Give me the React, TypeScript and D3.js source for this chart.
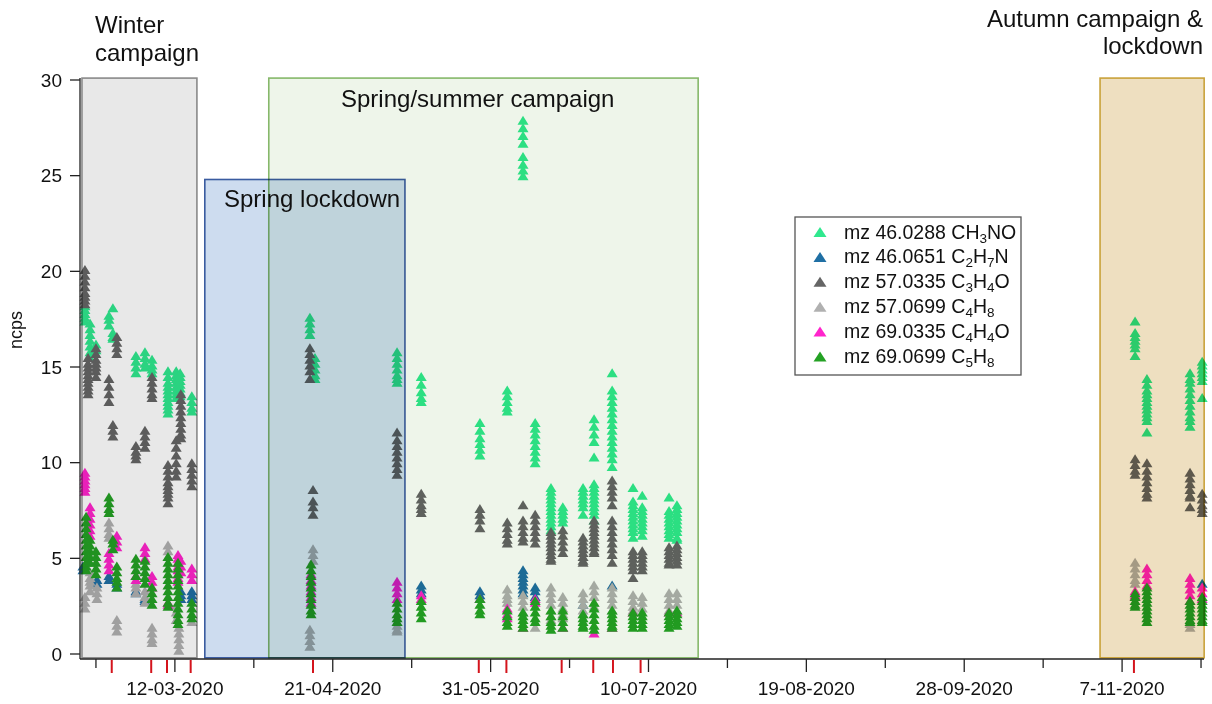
import React from "react";
import * as d3 from "d3";

type Col = [string, number[]];

// ---------- data ----------
const ch3no: Col[] = [
  ["2020-02-18 05", [18.2, 18.0, 17.8, 17.6, 17.4]],
  ["2020-02-19 12", [17.3, 17.0, 16.7, 16.4, 16.1, 15.8, 15.5]],
  ["2020-02-21 00", [16.2, 15.9]],
  ["2020-02-24 07", [17.7, 17.5, 17.2]],
  ["2020-02-25 07", [18.1, 16.8, 16.6, 16.5]],
  ["2020-03-02 03", [15.6, 15.3, 15.0, 14.7]],
  ["2020-03-04 10", [15.8, 15.5, 15.2, 15.0]],
  ["2020-03-06 05", [15.4, 15.1, 14.9, 14.7]],
  ["2020-03-10 06", [14.8, 14.5, 14.2, 14.0, 13.8, 13.6, 13.4, 13.2, 13.0, 12.8, 12.6]],
  ["2020-03-12 08", [14.8, 14.6, 14.4, 14.2, 14.0, 13.8, 13.6, 13.4]],
  ["2020-03-13 08", [14.7, 14.5, 14.3, 14.1, 13.9, 13.7, 13.5]],
  ["2020-03-16 07", [13.5, 13.2, 12.9, 12.7]],
  ["2020-04-15 05", [17.6, 17.3, 17.0, 16.7]],
  ["2020-04-16 12", [15.5, 15.2, 14.9, 14.6, 14.4]],
  ["2020-05-07 07", [15.8, 15.5, 15.2, 14.9, 14.6, 14.4, 14.2]],
  ["2020-05-13 10", [14.5, 14.1, 13.7, 13.4, 13.2]],
  ["2020-05-28 07", [12.1, 11.7, 11.3, 11.0, 10.7, 10.4]],
  ["2020-06-04 05", [13.8, 13.5, 13.2, 12.9, 12.7]],
  ["2020-06-08 05", [27.9, 27.5, 27.1, 26.7, 26.0, 25.6, 25.3, 25.0]],
  ["2020-06-11 07", [12.1, 11.8, 11.5, 11.2, 10.9, 10.6, 10.3, 10.0]],
  ["2020-06-15 07", [8.7, 8.5, 8.3, 8.1, 7.9, 7.7, 7.5, 7.3, 7.1, 6.9, 6.7, 6.5]],
  ["2020-06-18 07", [7.7, 7.5, 7.3, 7.1, 6.9]],
  ["2020-06-23 10", [8.7, 8.5, 8.3, 8.1, 7.9, 7.7, 7.3]],
  ["2020-06-26 05", [12.3, 11.9, 11.5, 11.1, 10.3, 8.9, 8.7, 8.5, 8.3, 8.1, 7.9, 7.7, 7.5, 7.3, 7.0]],
  ["2020-06-30 19", [14.7, 13.8, 13.5, 13.2, 12.9, 12.6, 12.3, 12.0, 11.7, 11.4, 11.1, 10.8, 10.5, 10.2, 9.8]],
  ["2020-07-06 02", [8.7, 8.0, 7.8, 7.6, 7.4, 7.2, 7.0, 6.8, 6.6, 6.4, 6.1]],
  ["2020-07-08 10", [8.3, 7.7, 7.5, 7.3, 7.1, 6.9, 6.7, 6.5, 6.2]],
  ["2020-07-15 05", [8.2, 7.5, 7.3, 7.1, 6.9, 6.7, 6.5, 6.3, 6.1]],
  ["2020-07-17 05", [7.8, 7.6, 7.4, 7.2, 7.0, 6.8, 6.6, 6.4, 6.1, 6.0]],
  ["2020-11-10 07", [17.4, 16.8, 16.6, 16.4, 16.2, 16.0, 15.6]],
  ["2020-11-13 07", [14.4, 14.1, 13.8, 13.6, 13.4, 13.2, 13.0, 12.8, 12.6, 12.4, 12.2, 11.6]],
  ["2020-11-24 05", [14.7, 14.4, 14.2, 13.9, 13.6, 13.3, 13.0, 12.7, 12.4, 12.2, 11.9]],
  ["2020-11-27 07", [15.3, 15.1, 14.9, 14.7, 14.5, 14.3, 13.4]],
];

const c2h7n: Col[] = [
  ["2020-02-17 17", [4.6, 4.4]],
  ["2020-02-21 06", [3.9, 3.7]],
  ["2020-02-24 07", [4.1, 3.9]],
  ["2020-02-26 07", [3.7, 3.5]],
  ["2020-03-02 03", [3.3, 3.2]],
  ["2020-03-04 10", [2.9, 2.8]],
  ["2020-03-13 12", [3.3, 3.1, 2.9]],
  ["2020-03-16 07", [3.3, 3.1, 2.9]],
  ["2020-05-13 10", [3.6, 3.4, 3.2]],
  ["2020-05-28 07", [3.3, 3.1, 2.9]],
  ["2020-06-08 05", [4.4, 4.2, 4.0, 3.8, 3.6, 3.4, 3.2]],
  ["2020-06-11 07", [3.5, 3.3, 3.0]],
  ["2020-06-23 10", [2.6]],
  ["2020-06-30 19", [3.6]],
  ["2020-11-27 07", [3.7]],
];

const c3h4o: Col[] = [
  ["2020-02-18 05", [20.1, 19.8, 19.5, 19.2, 18.9, 18.7, 18.5, 18.3]],
  ["2020-02-19 00", [15.5, 15.2, 15.0, 14.8, 14.6, 14.4, 14.2, 14.0, 13.8, 13.6]],
  ["2020-02-21 00", [16.0, 15.7, 15.4, 15.2, 15.0, 14.8, 14.5]],
  ["2020-02-24 07", [14.4, 14.0, 13.6, 13.2]],
  ["2020-02-25 07", [12.0, 11.7, 11.4]],
  ["2020-02-26 07", [16.6, 16.3, 16.0, 15.7]],
  ["2020-03-02 03", [10.9, 10.6, 10.4, 10.2]],
  ["2020-03-04 10", [11.7, 11.4, 11.1, 10.8]],
  ["2020-03-06 05", [14.5, 14.2, 13.9, 13.6, 13.4]],
  ["2020-03-10 06", [9.9, 9.6, 9.3, 9.0, 8.8, 8.6, 8.4, 8.2, 7.9]],
  ["2020-03-12 08", [11.2, 10.8, 10.4, 10.0, 9.6, 9.3]],
  ["2020-03-13 12", [13.6, 13.3, 13.0, 12.7, 12.4, 12.1, 11.8, 11.5, 11.3]],
  ["2020-03-16 07", [10.0, 9.7, 9.4, 9.1, 8.8]],
  ["2020-04-15 05", [16.0, 15.7, 15.4, 15.1, 14.8, 14.4]],
  ["2020-04-16 00", [8.6, 8.0, 7.7, 7.3]],
  ["2020-05-07 07", [11.6, 11.2, 10.9, 10.6, 10.3, 10.0, 9.7, 9.4]],
  ["2020-05-13 10", [8.4, 8.1, 7.8, 7.6, 7.4]],
  ["2020-05-28 07", [7.6, 7.3, 7.0, 6.6]],
  ["2020-06-04 05", [6.9, 6.6, 6.3, 6.0, 5.8]],
  ["2020-06-08 05", [7.8, 7.0, 6.7, 6.4, 6.1, 5.9]],
  ["2020-06-11 07", [7.3, 7.0, 6.7, 6.4, 6.1, 5.8]],
  ["2020-06-15 07", [6.4, 6.2, 6.0, 5.8, 5.6, 5.4, 5.2, 5.0, 4.9]],
  ["2020-06-18 07", [6.5, 6.2, 5.9, 5.6, 5.3]],
  ["2020-06-23 10", [6.1, 5.9, 5.7, 5.5, 5.3, 5.1, 4.9, 4.8]],
  ["2020-06-26 05", [7.0, 6.8, 6.6, 6.4, 6.2, 6.0, 5.8, 5.6, 5.4, 5.3]],
  ["2020-06-30 19", [9.1, 8.8, 8.5, 8.2, 7.8, 7.0, 6.7, 6.4, 6.1, 5.8, 5.5, 5.2, 4.8]],
  ["2020-07-06 02", [5.4, 5.2, 5.0, 4.8, 4.6, 4.4, 4.0]],
  ["2020-07-08 10", [5.4, 5.2, 5.0, 4.8, 4.6, 4.4]],
  ["2020-07-15 05", [5.6, 5.4, 5.2, 5.0, 4.8, 4.7]],
  ["2020-07-17 05", [5.7, 5.5, 5.3, 5.1, 4.9, 4.7]],
  ["2020-11-10 07", [10.2, 9.9, 9.6, 9.4]],
  ["2020-11-13 07", [10.0, 9.6, 9.3, 9.0, 8.7, 8.4, 8.2]],
  ["2020-11-24 05", [9.5, 9.2, 8.9, 8.6, 8.3, 8.2, 7.7]],
  ["2020-11-27 07", [8.4, 8.1, 7.8, 7.6, 7.4]],
];

const c4h8: Col[] = [
  ["2020-02-18 05", [3.0, 2.7, 2.4]],
  ["2020-02-19 12", [4.3, 4.0, 3.8, 3.6, 3.3]],
  ["2020-02-21 06", [3.5, 3.2, 2.9]],
  ["2020-02-24 07", [6.9, 6.6, 6.3, 6.1]],
  ["2020-02-26 07", [1.8, 1.5, 1.2]],
  ["2020-03-02 03", [3.7, 3.5, 3.2]],
  ["2020-03-04 10", [3.3, 3.0, 2.7]],
  ["2020-03-06 05", [1.4, 1.1, 0.8, 0.6]],
  ["2020-03-10 06", [5.7, 5.4, 5.1]],
  ["2020-03-12 08", [2.5, 2.2, 1.8]],
  ["2020-03-13 00", [1.4, 1.1, 0.8, 0.5, 0.2]],
  ["2020-03-16 07", [1.7]],
  ["2020-04-16 00", [5.5, 5.2, 4.9]],
  ["2020-04-15 05", [1.3, 1.0, 0.7, 0.4]],
  ["2020-05-07 07", [1.7, 1.5, 1.3, 1.2]],
  ["2020-06-04 05", [3.4, 3.1, 2.9, 2.7]],
  ["2020-06-08 05", [3.1, 2.8, 2.5, 2.2]],
  ["2020-06-11 07", [1.4]],
  ["2020-06-15 07", [3.5, 3.2, 2.9, 2.6, 2.3, 2.0, 1.8]],
  ["2020-06-18 07", [3.0, 2.7, 2.4, 2.1, 1.9]],
  ["2020-06-23 10", [3.2, 2.9, 2.6, 2.3, 2.1]],
  ["2020-06-26 05", [3.6, 3.3, 3.0, 2.7, 2.5]],
  ["2020-06-30 19", [3.5, 3.2, 2.9, 2.6, 2.3]],
  ["2020-07-06 02", [3.1, 2.8, 2.5, 2.3]],
  ["2020-07-08 10", [3.0, 2.7, 2.4]],
  ["2020-07-15 05", [3.2, 2.9, 2.6, 2.3]],
  ["2020-07-17 05", [3.2, 2.9, 2.6, 2.3]],
  ["2020-11-10 07", [4.8, 4.5, 4.2, 3.9, 3.7]],
  ["2020-11-24 05", [1.6, 1.4]],
];

const c4h4o: Col[] = [
  ["2020-02-18 05", [9.5, 9.3, 9.1, 8.9, 8.7, 8.5]],
  ["2020-02-19 12", [7.7, 7.4, 7.1, 6.8, 6.5, 6.2]],
  ["2020-02-24 07", [5.3, 5.0, 4.7, 4.4]],
  ["2020-02-26 07", [6.2, 5.9, 5.6]],
  ["2020-03-02 03", [4.1, 3.9]],
  ["2020-03-04 10", [5.6, 5.3, 5.0]],
  ["2020-03-06 05", [4.1, 3.8, 3.5]],
  ["2020-03-10 06", [2.7, 2.6]],
  ["2020-03-12 19", [5.2, 5.0, 4.8, 4.6, 4.4, 4.2, 4.0, 3.8]],
  ["2020-03-13 12", [4.9, 4.6, 4.3]],
  ["2020-03-16 07", [4.5, 4.2, 3.9]],
  ["2020-04-15 12", [4.2, 3.9, 3.6, 3.3, 3.0, 2.7]],
  ["2020-05-07 07", [3.8, 3.5, 3.2, 2.9]],
  ["2020-05-13 10", [3.1, 2.9]],
  ["2020-05-28 07", [2.9]],
  ["2020-06-04 05", [2.4, 2.1, 1.9]],
  ["2020-06-08 05", [1.4]],
  ["2020-06-11 07", [2.9, 2.7]],
  ["2020-06-18 07", [1.4]],
  ["2020-06-26 05", [1.1]],
  ["2020-06-30 19", [1.4]],
  ["2020-07-06 02", [2.2]],
  ["2020-07-15 05", [2.2]],
  ["2020-07-17 05", [2.2]],
  ["2020-11-10 07", [3.3, 3.1, 3.0]],
  ["2020-11-13 07", [4.5, 4.2, 3.9, 3.6]],
  ["2020-11-24 05", [4.0, 3.7, 3.4, 3.1, 2.8]],
  ["2020-11-27 07", [3.5, 3.2, 2.9]],
];

const c5h8: Col[] = [
  ["2020-02-18 12", [7.2, 6.9, 6.6, 6.3, 6.0, 5.7, 5.4, 5.1, 4.8, 4.6, 4.4]],
  ["2020-02-19 12", [6.0, 5.7, 5.4, 5.1, 4.8]],
  ["2020-02-21 00", [5.4, 5.1, 4.8, 4.5, 4.2]],
  ["2020-02-24 07", [8.2, 7.9, 7.6, 7.4]],
  ["2020-02-25 07", [6.0, 5.8, 5.5]],
  ["2020-02-26 07", [4.6, 4.3, 4.0, 3.8, 3.5]],
  ["2020-03-02 03", [5.0, 4.7, 4.4, 4.1]],
  ["2020-03-04 10", [4.9, 4.6, 4.3, 4.0, 3.7]],
  ["2020-03-06 05", [3.5, 3.2, 2.9, 2.6]],
  ["2020-03-10 06", [5.1, 4.8, 4.5, 4.2, 3.9, 3.6, 3.3, 3.0, 2.7, 2.5]],
  ["2020-03-12 19", [4.8, 4.5, 4.2, 3.9, 3.6, 3.3, 3.0, 2.7, 2.4, 2.1, 1.8, 1.6]],
  ["2020-03-16 07", [2.7, 2.4, 2.1, 1.9]],
  ["2020-04-15 12", [4.7, 4.4, 4.1, 3.8, 3.5, 3.2, 2.9, 2.6, 2.3, 2.1]],
  ["2020-05-07 07", [2.7, 2.4, 2.1, 1.9, 1.7]],
  ["2020-05-13 10", [2.8, 2.5, 2.2, 1.9]],
  ["2020-05-28 07", [2.9, 2.6, 2.3, 2.1]],
  ["2020-06-04 05", [2.3, 2.0, 1.7, 1.5]],
  ["2020-06-08 05", [2.2, 2.0, 1.8, 1.6, 1.4]],
  ["2020-06-11 07", [2.8, 2.5, 2.2, 1.9, 1.7]],
  ["2020-06-15 07", [2.3, 2.0, 1.7, 1.5, 1.3]],
  ["2020-06-18 07", [2.3, 2.0, 1.7, 1.4]],
  ["2020-06-23 10", [2.1, 1.9, 1.7, 1.5, 1.4]],
  ["2020-06-26 05", [2.7, 2.4, 2.1, 1.8, 1.5, 1.3]],
  ["2020-06-30 19", [2.3, 2.1, 1.9, 1.7, 1.5, 1.4]],
  ["2020-07-06 02", [2.2, 2.0, 1.8, 1.6, 1.4]],
  ["2020-07-08 10", [2.2, 2.0, 1.8, 1.6, 1.4]],
  ["2020-07-15 05", [2.2, 2.0, 1.8, 1.6, 1.4]],
  ["2020-07-17 05", [2.3, 2.1, 1.9, 1.7, 1.5]],
  ["2020-11-10 07", [3.2, 3.0, 2.8, 2.6, 2.5]],
  ["2020-11-13 07", [3.5, 3.3, 3.1, 2.9, 2.7, 2.5, 2.3, 2.1, 1.9, 1.7]],
  ["2020-11-24 05", [2.8, 2.6, 2.4, 2.2, 2.0, 1.8, 1.7]],
  ["2020-11-27 07", [3.0, 2.8, 2.6, 2.4, 2.2, 2.0, 1.8, 1.7]],
];

const seriesData: Col[][] = [ch3no, c2h7n, c3h4o, c4h8, c4h4o, c5h8];
// legend labels: even indices normal text, odd indices subscripts
const legendLabels: string[][] = [
  ["mz 46.0288 CH", "3", "NO"],
  ["mz 46.0651 C", "2", "H", "7", "N"],
  ["mz 57.0335 C", "3", "H", "4", "O"],
  ["mz 57.0699 C", "4", "H", "8"],
  ["mz 69.0335 C", "4", "H", "4", "O"],
  ["mz 69.0699 C", "5", "H", "8"],
];
const seriesColors = ["#2fe88e", "#1f6fa4", "#656565", "#b0b0b0", "#ff24cc", "#24a124"];

const yTicks = [0, 5, 10, 15, 20, 25, 30];
const xMajorTicks = ["2020-03-12", "2020-04-21", "2020-05-31", "2020-07-10", "2020-08-19", "2020-09-28", "2020-11-07"];
const xMajorLabels = ["12-03-2020", "21-04-2020", "31-05-2020", "10-07-2020", "19-08-2020", "28-09-2020", "7-11-2020"];
const xMinorTicks = ["2020-02-21", "2020-04-01", "2020-05-11", "2020-06-20", "2020-07-30", "2020-09-08", "2020-10-18", "2020-11-27"];
const redTicks = ["2020-02-25 00", "2020-03-06 00", "2020-03-10 00", "2020-03-16 00", "2020-04-16 00", "2020-05-28 00", "2020-06-04 00", "2020-06-18 00", "2020-06-26 00", "2020-07-01 00", "2020-07-08 00", "2020-11-10 00"];

// campaign periods: [start, end, top value]
const periods: [string, string, number][] = [
  ["2020-02-17 11", "2020-03-17 14", 30.1],
  ["2020-03-19 14", "2020-05-09 07", 24.8],
  ["2020-04-04 19", "2020-07-22 14", 30.1],
  ["2020-11-01 10", "2020-11-27 19", 30.1],
];
const periodFills = ["#e8e8e8", "#cddcef", "#eef5ea", "#eedfc0"];
const periodStrokes = ["#8a8a8a", "#3a5ba0", "#86b86a", "#c9a23a"];

const parseH = d3.timeParse("%Y-%m-%d %H");
const parseD = d3.timeParse("%Y-%m-%d");

const FONT = "'Liberation Sans', Arial, sans-serif";

function tri(cx: number, cy: number, w: number, h: number) {
  return `M${cx},${cy - h / 2}L${cx + w / 2},${cy + h / 2}L${cx - w / 2},${cy + h / 2}Z`;
}

export default function App() {
  const W = 1212, H = 704;
  const x = d3.scaleTime()
    .domain([new Date(2020, 1, 16, 23), new Date(2020, 10, 27, 12)])
    .range([80, 1203]);
  const y = d3.scaleLinear().domain([0, 30]).range([654, 80]);
  const axisY = 659;

  const points: JSX.Element[] = [];
  seriesData.forEach((cols, si) => {
    cols.forEach(([d, vals], ci) => {
      const px = x(parseH(d) as Date);
      vals.forEach((v, vi) => {
        points.push(
          <path key={`${si}-${ci}-${vi}`} d={tri(px, y(v), 11, 9)} fill={seriesColors[si]} />
        );
      });
    });
  });

  return (
    <svg width={W} height={H} style={{ position: "absolute", left: 0, top: 0, display: "block" }} fontFamily={FONT}>
      <rect x={0} y={0} width={W} height={H} fill="#ffffff" />
      <g>{points}</g>
      <g>
        {periods.map(([s, e, top], i) => {
          const x0 = x(parseH(s) as Date), x1 = x(parseH(e) as Date);
          const y0 = y(top), y1 = y(-0.2);
          return (
            <rect key={i} x={x0} y={y0} width={x1 - x0} height={y1 - y0}
              fill={periodFills[i]} stroke={periodStrokes[i]} strokeWidth={1.6}
              style={{ mixBlendMode: "multiply" }} />
          );
        })}
      </g>
      {/* period titles */}
      <g fontSize={24} fill="#111">
        <text x={95} y={33}>Winter</text>
        <text x={95} y={61}>campaign</text>
        <text x={1203} y={27} textAnchor="end">Autumn campaign &amp;</text>
        <text x={1203} y={54} textAnchor="end">lockdown</text>
        <text x={341} y={107}>Spring/summer campaign</text>
        <text x={224} y={207}>Spring lockdown</text>
      </g>
      {/* y axis */}
      <g>
        <line x1={80} x2={80} y1={y(30) - 2} y2={axisY} stroke="#222" strokeWidth={1.3} />
        {yTicks.map((t) => (
          <g key={t}>
            <line x1={70} x2={80} y1={y(t)} y2={y(t)} stroke="#222" strokeWidth={1.3} />
            <text x={62} y={y(t)} dy="0.35em" textAnchor="end" fontSize={19} fill="#111">{t}</text>
          </g>
        ))}
        <text transform={`translate(22,${(y(0) + y(30)) / 2 - 37}) rotate(-90)`} textAnchor="middle" fontSize={18} fill="#111">ncps</text>
      </g>
      {/* x axis */}
      <g>
        <line x1={80} x2={1204} y1={axisY} y2={axisY} stroke="#222" strokeWidth={1.3} />
        {xMinorTicks.map((t) => {
          const px = x(parseD(t) as Date);
          return <line key={t} x1={px} x2={px} y1={axisY} y2={axisY + 9} stroke="#222" strokeWidth={1.3} />;
        })}
        {xMajorTicks.map((t, i) => {
          const px = x(parseD(t) as Date);
          return (
            <g key={t}>
              <line x1={px} x2={px} y1={axisY} y2={axisY + 13} stroke="#222" strokeWidth={1.3} />
              <text x={px} y={695} textAnchor="middle" fontSize={19} fill="#111">{xMajorLabels[i]}</text>
            </g>
          );
        })}
        {redTicks.map((t) => {
          const px = x(parseH(t) as Date);
          return <line key={t} x1={px} x2={px} y1={axisY + 1} y2={axisY + 14} stroke="#d4141c" strokeWidth={2} />;
        })}
      </g>
      {/* legend */}
      <g>
        <rect x={795} y={217} width={226} height={158} fill="#ffffff" stroke="#555" strokeWidth={1.3} />
        {legendLabels.map((parts, i) => {
          const cy = 232 + i * 24.9;
          return (
            <g key={i}>
              <path d={tri(820, cy, 13, 10)} fill={seriesColors[i]} />
              <text x={844} y={cy + 6.5} fontSize={19.5} fill="#111">
                {parts.map((p, j) =>
                  j % 2 === 1 ? (
                    <tspan key={j} fontSize={13.5} dy={4}>{p}</tspan>
                  ) : (
                    <tspan key={j} dy={j === 0 ? 0 : -4}>{p}</tspan>
                  )
                )}
              </text>
            </g>
          );
        })}
      </g>
    </svg>
  );
}
